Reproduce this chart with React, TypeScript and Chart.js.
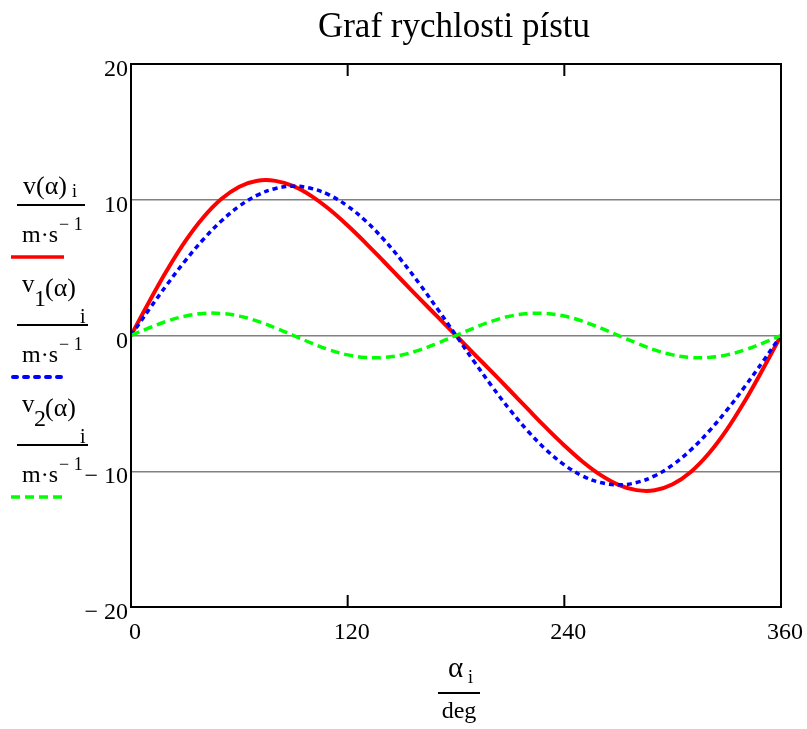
import React, { useEffect, useRef } from "react";
import { Chart, registerables } from "chart.js";

Chart.register(...registerables);

// ---- data ----
const alphaDeg = [0, 10, 20, 30, 40, 50, 60, 70, 80, 90, 100, 110, 120, 130, 140, 150, 160, 170, 180, 190, 200, 210, 220, 230, 240, 250, 260, 270, 280, 290, 300, 310, 320, 330, 340, 350, 360];
const vValues = [0, 2.47, 4.82, 6.93, 8.69, 10.05, 10.96, 11.4, 11.39, 11.0, 10.27, 9.28, 8.1, 6.81, 5.45, 4.07, 2.7, 1.35, 0, -1.35, -2.7, -4.07, -5.45, -6.81, -8.1, -9.28, -10.27, -11.0, -11.39, -11.4, -10.96, -10.05, -8.69, -6.93, -4.82, -2.47, 0];
const v1Values = [0, 1.91, 3.76, 5.5, 7.07, 8.43, 9.53, 10.34, 10.83, 11.0, 10.83, 10.34, 9.53, 8.43, 7.07, 5.5, 3.76, 1.91, 0, -1.91, -3.76, -5.5, -7.07, -8.43, -9.53, -10.34, -10.83, -11.0, -10.83, -10.34, -9.53, -8.43, -7.07, -5.5, -3.76, -1.91, 0];
const v2Values = [0, 0.56, 1.06, 1.43, 1.62, 1.62, 1.43, 1.06, 0.56, 0, -0.56, -1.06, -1.43, -1.62, -1.62, -1.43, -1.06, -0.56, 0, 0.56, 1.06, 1.43, 1.62, 1.62, 1.43, 1.06, 0.56, 0, -0.56, -1.06, -1.43, -1.62, -1.62, -1.43, -1.06, -0.56, 0];

const xTickValues = [0, 120, 240, 360];
const xTickLabels = ["0", "120", "240", "360"];
const yTickValues = [-20, -10, 0, 10, 20];
const yTickLabels = ["\u2212 20", "\u2212 10", "0", "10", "20"];
const yGridValues = [-10, 0, 10];

const titleText = "Graf rychlosti p\u00edstu";
const seriesNames = ["v", "v", "v"];
const seriesSubs = ["", "1", "2"];
const unitText = "m\u00b7s";
const unitExp = "\u2212 1";
const xLabelMain = "\u03b1";
const xLabelSub = "i";
const xLabelUnit = "deg";

const FONT = "'Liberation Serif', 'Times New Roman', serif";
const W = 807;
const H = 729;

function txt(ctx: CanvasRenderingContext2D, s: string, x: number, y: number, size: number, align: CanvasTextAlign = "left") {
  ctx.font = `${size}px ${FONT}`;
  ctx.textAlign = align;
  ctx.textBaseline = "alphabetic";
  ctx.fillStyle = "#000";
  ctx.fillText(s, x, y);
}

function hline(ctx: CanvasRenderingContext2D, x1: number, x2: number, y: number, w: number, color: string, dash: number[] = [], cap: CanvasLineCap = "butt") {
  ctx.save();
  ctx.beginPath();
  ctx.setLineDash(dash);
  ctx.lineCap = cap;
  ctx.strokeStyle = color;
  ctx.lineWidth = w;
  ctx.moveTo(x1, y);
  ctx.lineTo(x2, y);
  ctx.stroke();
  ctx.restore();
}

const decorPlugin = {
  id: "decor",
  afterDatasetsDraw(chart: any) {
    const ctx: CanvasRenderingContext2D = chart.ctx;
    const { left, right, top, bottom } = chart.chartArea;
    const xs = chart.scales.x;
    const ys = chart.scales.y;
    ctx.save();
    // frame
    ctx.strokeStyle = "#000";
    ctx.lineWidth = 2;
    ctx.strokeRect(left, top, right - left, bottom - top);
    // inner x ticks
    xTickValues.forEach((v) => {
      if (v === xTickValues[0] || v === xTickValues[xTickValues.length - 1]) return;
      const px = xs.getPixelForValue(v);
      ctx.beginPath();
      ctx.moveTo(px, bottom);
      ctx.lineTo(px, bottom - 12);
      ctx.moveTo(px, top);
      ctx.lineTo(px, top + 12);
      ctx.stroke();
    });
    // tick labels
    xTickValues.forEach((v, i) => {
      const px = xs.getPixelForValue(v);
      txt(ctx, xTickLabels[i], px + 4, bottom + 32, 24, "center");
    });
    yTickValues.forEach((v, i) => {
      const py = ys.getPixelForValue(v);
      txt(ctx, yTickLabels[i], left - 3, py + 12, 24, "right");
    });
    // title
    txt(ctx, titleText, (left + right) / 2 - 2, 37, 35, "center");
    // x axis label (fraction)
    const cx = (left + right) / 2 + 3;
    txt(ctx, xLabelMain, cx - 11, bottom + 70, 29);
    txt(ctx, xLabelSub, cx + 9, bottom + 76, 18);
    hline(ctx, cx - 21, cx + 21, bottom + 86, 2, "#000");
    txt(ctx, xLabelUnit, cx, bottom + 111, 24, "center");
    // legend (left side)
    const colors = ["#ff0000", "#0000ff", "#00ff00"];
    const dashes = [[], [4, 7], [9, 5]];
    const caps: CanvasLineCap[] = ["butt", "round", "butt"];
    for (let k = 0; k < 3; k++) {
      const Y = 205 + k * 120;
      if (seriesSubs[k] === "") {
        txt(ctx, seriesNames[k] + "(\u03b1)", 23, Y - 11, 26);
        txt(ctx, "i", 72, Y - 8, 18);
        hline(ctx, 17, 85, Y, 2, "#000");
      } else {
        txt(ctx, seriesNames[k], 22, Y - 33, 25);
        txt(ctx, seriesSubs[k], 34, Y - 19, 24);
        txt(ctx, "(\u03b1)", 45, Y - 29, 26);
        txt(ctx, "i", 80, Y - 2, 20);
        hline(ctx, 17, 88, Y, 2, "#000");
      }
      txt(ctx, unitText, 22, Y + 37, 24);
      txt(ctx, unitExp, 59, Y + 25, 18);
      hline(ctx, k === 1 ? 13 : 11, 64, Y + 52, k === 1 ? 4 : 3.5, colors[k], dashes[k], caps[k]);
    }
    ctx.restore();
  },
};

export default function App() {
  const ref = useRef<HTMLCanvasElement>(null);
  useEffect(() => {
    if (!ref.current) return;
    const mk = (vals: number[]) => alphaDeg.map((a, i) => ({ x: a, y: vals[i] }));
    const chart = new Chart(ref.current, {
      type: "line",
      data: {
        datasets: [
          { label: "v", data: mk(vValues), borderColor: "#ff0000", borderWidth: 4, pointRadius: 0, tension: 0.4, order: 3, fill: false },
          { label: "v1", data: mk(v1Values), borderColor: "#0000ff", borderWidth: 3.5, borderDash: [5, 4], pointRadius: 0, tension: 0.4, order: 2, fill: false },
          { label: "v2", data: mk(v2Values), borderColor: "#00ff00", borderWidth: 3.5, borderDash: [9, 5], pointRadius: 0, tension: 0.4, order: 1, fill: false },
        ],
      },
      options: {
        animation: false,
        responsive: false,
        devicePixelRatio: 1,
        layout: { padding: { left: 131, right: 26, top: 64, bottom: 122 } },
        plugins: { legend: { display: false }, title: { display: false }, tooltip: { enabled: false } },
        scales: {
          x: {
            type: "linear",
            min: 0,
            max: 360,
            ticks: { display: false, stepSize: 120 },
            grid: { display: false, drawTicks: false },
            border: { display: false },
          },
          y: {
            type: "linear",
            min: -20,
            max: 20,
            ticks: { display: false, stepSize: 10 },
            grid: {
              drawTicks: false,
              color: (c: any) => (yGridValues.includes(c.tick?.value) ? "#808080" : "rgba(0,0,0,0)"),
              lineWidth: 1.5,
            },
            border: { display: false },
          },
        },
      },
      plugins: [decorPlugin],
    });
    return () => chart.destroy();
  }, []);
  return (
    <div style={{ position: "absolute", left: 0, top: 0, width: W, height: H, background: "#fff" }}>
      <canvas ref={ref} width={W} height={H} style={{ display: "block" }} />
    </div>
  );
}
